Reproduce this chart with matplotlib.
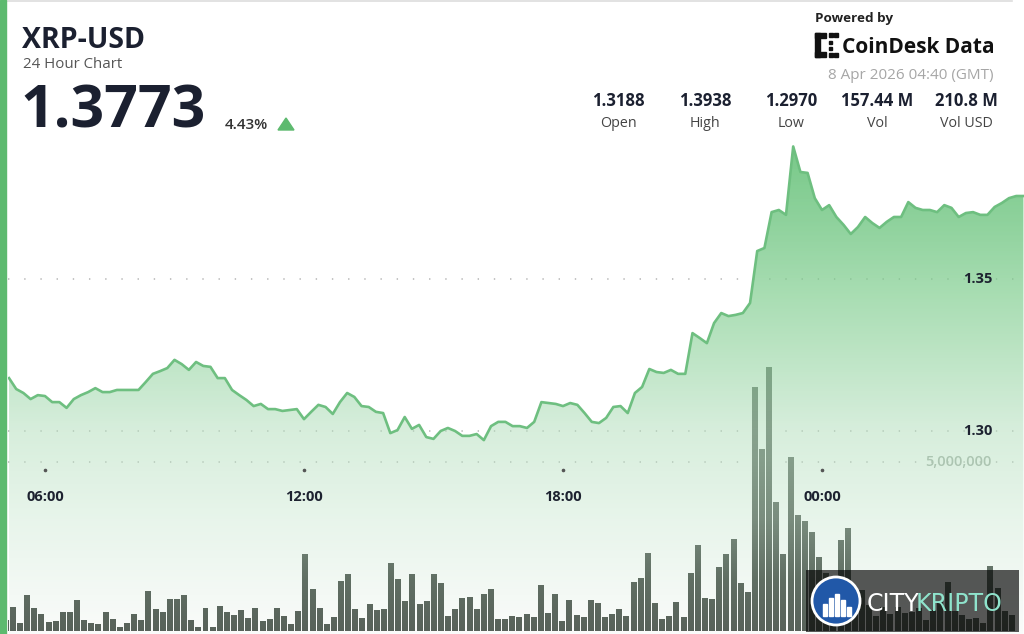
import numpy as np
import matplotlib.pyplot as plt
from matplotlib.patches import Rectangle, Polygon, Circle
from matplotlib.transforms import blended_transform_factory

plt.rcParams['font.family'] = ['Open Sans', 'DejaVu Sans']

# XRP-USD, 10 minute closes from 05:10 to 04:40 (GMT)
price = [
    1.3174, 1.3138, 1.3125, 1.3105, 1.3118, 1.3115, 1.3095, 1.3095, 1.3076, 1.3105,
    1.3118, 1.3128, 1.3141, 1.3128, 1.3128, 1.3135, 1.3135, 1.3135, 1.3135, 1.3161,
    1.3188, 1.3197, 1.3207, 1.3234, 1.3220, 1.3201, 1.3227, 1.3214, 1.3211, 1.3174,
    1.3174, 1.3135, 1.3118, 1.3102, 1.3082, 1.3089, 1.3072, 1.3072, 1.3066, 1.3069,
    1.3072, 1.3039, 1.3063, 1.3086, 1.3079, 1.3056, 1.3095, 1.3125,
    1.3112, 1.3082, 1.3079, 1.3063, 1.3059, 1.2993, 1.3003, 1.3046, 1.3007, 1.3020,
    1.2980, 1.2974, 1.3000, 1.3010, 1.3000, 1.2984, 1.2984, 1.2990, 1.2970, 1.3016,
    1.3030, 1.3030, 1.3016, 1.3016,
    1.3010, 1.3030, 1.3095, 1.3092, 1.3089, 1.3082, 1.3092, 1.3086, 1.3059, 1.3030,
    1.3026, 1.3043, 1.3079, 1.3082, 1.3059, 1.3125, 1.3145, 1.3204, 1.3194, 1.3191,
    1.3201, 1.3188, 1.3188, 1.3322, 1.3306, 1.3289, 1.3355, 1.3388, 1.3378, 1.3382,
    1.3388, 1.3421, 1.3592, 1.3602, 1.3720, 1.3727, 1.3711, 1.3936, 1.3852, 1.3849,
    1.3766, 1.3727, 1.3743, 1.3704, 1.3678, 1.3648, 1.3671, 1.3704, 1.3684, 1.3668,
    1.3688, 1.3704, 1.3704, 1.3753, 1.3734, 1.3727, 1.3727, 1.3720, 1.3743, 1.3734,
    1.3704, 1.3717, 1.3720, 1.3711, 1.3711, 1.3737, 1.3750, 1.3766, 1.3773, 1.3773,
]

# volume per 10 minute bucket, millions of XRP
volume_m = [
    0.33, 0.71, 0.24, 1.07, 0.68, 0.50, 0.27, 0.30, 0.56, 0.56,
    0.92, 0.33, 0.24, 0.21, 0.56, 0.36, 0.12, 0.24, 0.50, 0.33,
    1.18, 0.65, 0.56, 0.95, 0.95, 1.07, 0.33, 0.12, 0.68, 0.12,
    0.74, 0.56, 0.47, 0.62, 0.38, 0.68, 0.30, 0.36, 0.68, 0.44,
    0.21, 0.59, 2.28, 1.24, 0.68, 0.21, 0.41, 1.48, 1.69, 0.65,
    0.38, 0.80, 0.62, 0.65, 2.01, 1.54, 0.89, 1.69, 0.80, 0.89,
    1.69, 1.42, 0.44, 0.65, 0.98, 1.01, 0.65, 1.09, 1.24, 0.36,
    0.36, 0.44, 0.41, 0.50, 0.41, 1.36, 0.53, 1.09, 0.30, 0.92,
    0.47, 0.41, 0.92, 0.83, 0.41, 0.50, 0.65, 0.44, 1.45, 1.57,
    2.31, 0.83, 0.36, 0.44, 0.86, 0.41, 1.72, 2.54, 0.98, 0.95,
    1.89, 2.28, 2.72, 1.42, 1.15, 7.22, 5.39, 7.81, 3.82, 2.28,
    5.15, 3.43, 3.25, 2.93, 2.19, 1.72, 1.36, 2.69, 3.05, 0.92,
    1.21, 0.77, 0.44, 0.71, 0.50, 0.71, 0.53, 0.56, 0.68, 0.33,
    0.62, 0.89, 1.45, 0.59, 0.47, 0.36, 0.38, 0.24, 1.92, 1.27,
    0.59, 0.47,
]

# time axis in hours since 00:00 of 7 Apr
hours = 5 + 10 / 60 + np.arange(len(price)) / 6          # price: 05:10 ... 04:40
bar_hours = 5.09 + np.arange(len(volume_m)) * 0.1653     # volume band positions
volume = np.array(volume_m) * 1e6

tick_hours = [6, 12, 18, 24]
tick_labels = ['06:00', '12:00', '18:00', '00:00']
price_grid = [1.30, 1.35]
price_grid_labels = ['1.30', '1.35']
vol_grid = [5_000_000]
vol_grid_labels = ['5,000,000']

stat_values = ['1.3188', '1.3938', '1.2970', '157.44 M', '210.8 M']
stat_names = ['Open', 'High', 'Low', 'Vol', 'Vol USD']

W, H = 1024, 634
fig = plt.figure(figsize=(W / 100, H / 100), dpi=100)
fig.patch.set_facecolor('white')

left_px = 8
ax_v = fig.add_axes([left_px / W, 0, (W - left_px) / W, 1])
ax_p = ax_v.twinx()
ax_o = fig.add_axes([0, 0, 1, 1])
ax_v.set_zorder(1)
ax_p.set_zorder(2)
ax_o.set_zorder(3)
for a in (ax_v, ax_p, ax_o):
    a.set_axis_off()
    a.patch.set_visible(False)
ax_o.set_xlim(0, W)
ax_o.set_ylim(H, 0)

x0, x1 = 5.143, 28.68
p_lo, p_hi = 1.23322, 1.44178
v_lo, v_hi = -0.0888e6, 18.67e6

# volume bars (under the price fill)
ax_v.bar(bar_hours, volume, width=0.84 * 0.1653, color='#58615a', zorder=2)

# dotted grid
grid_kw = dict(color='#b4b4b4', lw=1.1, linestyle=(0, (0.9, 9.7)), zorder=1)
tr_p = blended_transform_factory(ax_v.transAxes, ax_p.transData)
for g in price_grid:
    ax_v.plot([0, 1], [g, g], transform=tr_p, **grid_kw)
for g in vol_grid:
    ax_v.plot([0, 1], [g, g], transform=ax_v.get_yaxis_transform(), **grid_kw)

# gradient area fill under the price line
rows = np.arange(H) + 0.5
alpha = np.interp(rows, [140, 300, 400, 460, 520, 580, 634], [0.85, 0.66, 0.56, 0.48, 0.34, 0.13, 0.03])
bg = np.stack([
    np.interp(rows, [140, 220, 300, 430, 520, 634], [118, 142, 170, 215, 232, 250]),
    np.interp(rows, [140, 220, 300, 430, 520, 634], [200, 210, 222, 238, 245, 251]),
    np.interp(rows, [140, 220, 300, 430, 520, 634], [135, 156, 180, 220, 235, 250]),
], axis=1)
col = np.clip(255 - (255 - bg) / alpha[:, None], 0, 255) / 255
img = np.zeros((H, 1, 4))
img[:, 0, :3] = col
img[:, 0, 3] = alpha
poly = ax_p.fill_between(hours, price, p_lo, facecolor='none', edgecolor='none')
im = ax_p.imshow(img, extent=[x0, x1, p_lo, p_hi], aspect='auto', origin='upper',
                 interpolation='bilinear', zorder=2)
im.set_clip_path(poly.get_paths()[0], transform=ax_p.transData)
ax_p.plot(hours, price, color='#6ebf80', lw=1.9, zorder=4, solid_joinstyle='round')

ax_v.set_xlim(x0, x1)
ax_v.set_ylim(v_lo, v_hi)
ax_p.set_xlim(x0, x1)
ax_p.set_ylim(p_lo, p_hi)

# axis labels
lab_x = (992 - left_px) / (W - left_px)
for g, t in zip(price_grid, price_grid_labels):
    ax_p.text(lab_x, g, t, transform=tr_p, ha='right', va='center',
              fontsize=10.5, fontweight='bold', color='#1d2230', zorder=5)
for g, t in zip(vol_grid, vol_grid_labels):
    ax_v.text(lab_x, g, t, transform=ax_v.get_yaxis_transform(), ha='right',
              va='center', fontsize=10.5, fontweight='semibold', color='#a3ada5', zorder=5)
tr_x = blended_transform_factory(ax_v.transData, ax_o.transData)
for h, t in zip(tick_hours, tick_labels):
    ax_o.plot([h], [470], marker='o', ms=1.6, color='#555555', transform=tr_x)
    ax_o.text(h, 501, t, transform=tr_x, ha='center', va='baseline',
              fontsize=10.5, fontweight='bold', color='#1d2230')

# card frame
ax_o.add_patch(Rectangle((0, 0), 6, H, color='#5dba6f', zorder=6))
ax_o.plot([6, 1012], [0.6, 0.6], color='#dddddd', lw=1.2)

# header
dark = '#1b2030'
ax_o.text(22, 48, 'XRP-USD', fontsize=20.5, fontweight='bold', color=dark, va='baseline')
ax_o.text(23, 68, '24 Hour Chart', fontsize=10.8, color='#555555', va='baseline')
ax_o.text(20, 128, '1.3773', fontsize=42.5, fontweight='bold', color=dark, va='baseline')
ax_o.text(225, 129, '4.43%', fontsize=11, fontweight='semibold', color='#333333', va='baseline')
ax_o.add_patch(Polygon([[278, 130], [294, 130], [286, 118]], closed=True, color='#5dba6f'))

ax_o.text(815, 22, 'Powered by', fontsize=9.7, fontweight='bold', color='#222222', va='baseline')
# CoinDesk mark
for (rx, ry, rw, rh) in [(815, 33, 5, 24), (815, 33, 11, 5), (815, 52, 11, 5),
                         (829, 33, 4, 4), (829, 53, 4, 4), (829, 41, 3, 3),
                         (829, 47, 3, 3), (834, 33, 4, 4), (834, 53, 4, 4)]:
    ax_o.add_patch(Rectangle((rx, ry), rw, rh, color='#111111'))
ax_o.text(842, 53, 'CoinDesk Data', fontsize=15, fontweight='bold', color='#111111', va='baseline')
ax_o.text(993, 79, '8 Apr 2026 04:40 (GMT)', fontsize=11, color='#a6a6a6', ha='right', va='baseline')

stat_x = [618, 705, 791, 877, 966]
for sx, v, n in zip(stat_x, stat_values, stat_names):
    ax_o.text(sx, 106, v, fontsize=12, fontweight='bold', color=dark, ha='center', va='baseline')
    ax_o.text(sx, 127, n, fontsize=10.3, color='#444444', ha='center', va='baseline')

# watermark
ax_o.add_patch(Rectangle((806, 570), 213, 62, color='black', alpha=0.65, lw=0))
ax_o.add_patch(Circle((836, 601), 24, facecolor='#2158a8', edgecolor='white', lw=2))
for bx, bh in [(823, 12), (829, 18), (835, 22), (841, 16), (847, 9)]:
    ax_o.add_patch(Rectangle((bx, 616 - bh), 4, bh, color='white'))
ax_o.text(867, 611, 'CITY', fontsize=17, color='white', va='baseline', family='DejaVu Sans')
ax_o.text(916, 611, 'KRIPTO', fontsize=17, color='#8fe3cc', va='baseline', family='DejaVu Sans')

fig.savefig('out.png', dpi=100)
